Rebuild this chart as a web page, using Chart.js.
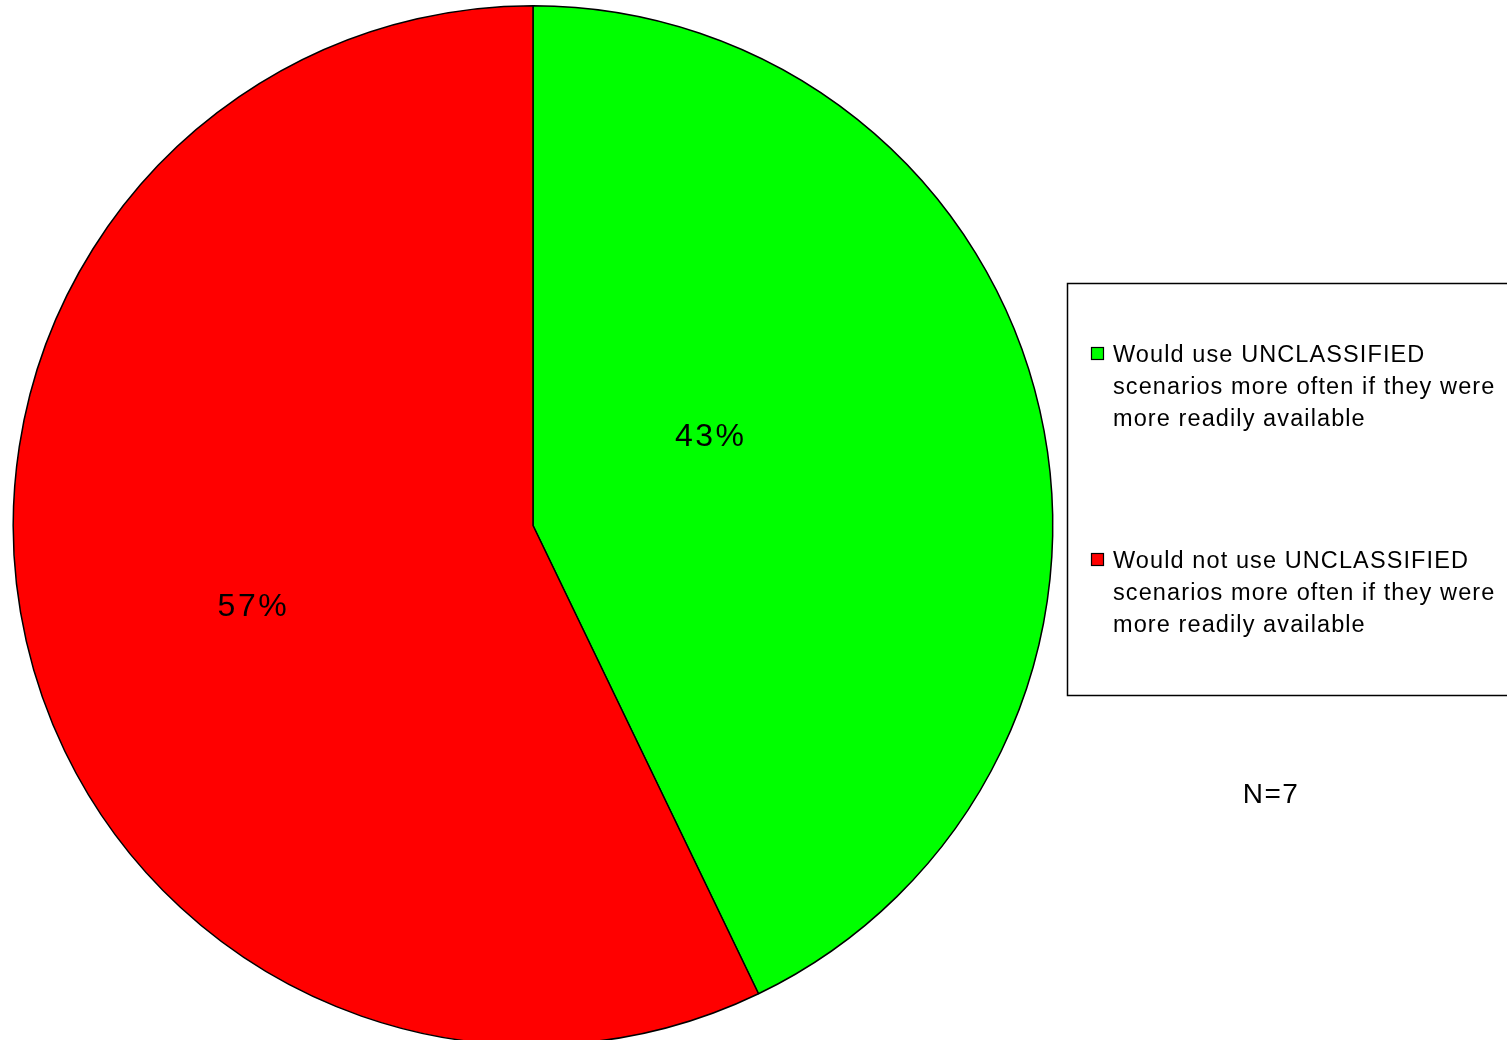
<!DOCTYPE html>
<html>
<head>
<meta charset="utf-8">
<script src="https://cdn.jsdelivr.net/npm/chart.js@4/dist/chart.umd.min.js"></script>
<style>
  html, body { margin: 0; padding: 0; background: #fff; overflow: hidden; }
  #wrap { position: relative; width: 1507px; height: 1046px; }
</style>
</head>
<body>
<div id="wrap"><canvas id="pieChart"></canvas></div>
<script>
/*
==================================
    Data
==================================
*/
var categories = [
    ['Would use UNCLASSIFIED', 'scenarios more often if they were', 'more readily available'],
    ['Would not use UNCLASSIFIED', 'scenarios more often if they were', 'more readily available']
];
var counts = [3, 4];
var percentLabels = ['43%', '57%'];
var sliceColors = ['#00ff00', '#ff0000'];
var sampleNote = 'N=7';

// label spots, as fractions of the radius from the pie centre
var labelSpots = [[0.342, -0.169], [-0.538, 0.158]];

/*
==================================
    Legend box, labels, N note
==================================
*/
var extrasPlugin = {
    id: 'extras',
    afterDraw: function(chart) {
        var ctx = chart.ctx;
        var arc = chart.getDatasetMeta(0).data[0];
        var cx = arc.x, cy = arc.y, r = arc.outerRadius;

        ctx.save();
        ctx.fillStyle = '#000';
        ctx.textAlign = 'center';
        ctx.textBaseline = 'middle';
        ctx.font = '32px "Liberation Sans", Arial, sans-serif';
        ctx.letterSpacing = '2.5px';
        percentLabels.forEach(function(txt, i) {
            ctx.fillText(txt, cx + labelSpots[i][0] * r, cy + labelSpots[i][1] * r);
        });

        // legend frame
        ctx.lineWidth = 1.5;
        ctx.strokeStyle = '#000';
        ctx.strokeRect(1067.5, 283.5, 460, 412);

        ctx.font = '23.5px "Liberation Sans", Arial, sans-serif';
        ctx.letterSpacing = '1.1px';
        ctx.textAlign = 'left';
        var tops = [355, 561];
        categories.forEach(function(lines, i) {
            var y = tops[i];
            ctx.fillStyle = sliceColors[i];
            ctx.fillRect(1091.5, y - 7.5, 12, 12);
            ctx.lineWidth = 1.2;
            ctx.strokeStyle = '#000';
            ctx.strokeRect(1091.5, y - 7.5, 12, 12);
            ctx.fillStyle = '#000';
            lines.forEach(function(line, j) {
                ctx.fillText(line, 1113, y + 1 + j * 32);
            });
        });

        ctx.textAlign = 'center';
        ctx.font = '28px "Liberation Sans", Arial, sans-serif';
        ctx.letterSpacing = '1.5px';
        ctx.fillText(sampleNote, 1271, 795);
        ctx.restore();
    }
};

/*
==================================
    Pie Chart
==================================
*/
var ctx = document.getElementById('pieChart');
var pieChart = new Chart(ctx, {
    type: 'pie',
    data: {
        labels: categories,
        datasets: [{
            data: counts,
            backgroundColor: sliceColors,
            borderColor: '#000',
            borderWidth: 1.5,
            hoverOffset: 0
        }]
    },
    options: {
        responsive: true,
        maintainAspectRatio: false,
        animation: false,
        layout: { padding: { left: 12, right: 453, top: 5, bottom: 0 } },
        plugins: {
            legend: { display: false },
            tooltip: { enabled: false }
        }
    },
    plugins: [extrasPlugin]
});
</script>
</body>
</html>
